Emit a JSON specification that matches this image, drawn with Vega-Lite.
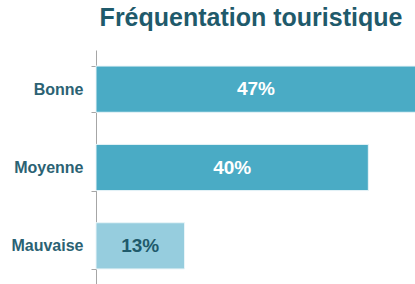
{
  "$schema": "https://vega.github.io/schema/vega-lite/v6.json",
  "autosize": {"type": "none"},
  "padding": {"left": 96, "top": 50, "right": 0, "bottom": 0},
  "width": 320,
  "height": 235,
  "background": "white",
  "config": {"view": {"stroke": null}, "font": "Liberation Sans"},
  "title": {
    "text": "Fréquentation touristique",
    "fontSize": 25,
    "fontWeight": "bold",
    "color": "#1F5A6B",
    "font": "Liberation Sans",
    "anchor": "middle",
    "dx": -5,
    "offset": 11
  },
  "data": {
    "values": [
      {"category": "Bonne", "value": 47, "label": "47%"},
      {"category": "Moyenne", "value": 40, "label": "40%"},
      {"category": "Mauvaise", "value": 13, "label": "13%"}
    ]
  },
  "encoding": {
    "y": {
      "field": "category",
      "type": "nominal",
      "sort": null,
      "scale": {"paddingInner": 0.41, "paddingOuter": 0.205},
      "axis": {
        "title": null,
        "tickBand": "extent",
        "domainColor": "#A6A6A6",
        "tickColor": "#A6A6A6",
        "tickSize": 5,
        "labelPadding": 8,
        "labelFontSize": 16,
        "labelFontWeight": "bold",
        "labelColor": "#2B6273",
        "labelFont": "Liberation Sans"
      }
    }
  },
  "layer": [
    {
      "mark": {"type": "bar", "stroke": "#E8F4F8", "strokeWidth": 1},
      "encoding": {
        "x": {"field": "value", "type": "quantitative", "scale": {"domain": [0, 47]}, "axis": null},
        "color": {
          "condition": {"test": "datum.category === 'Mauvaise'", "value": "#96CDDE"},
          "value": "#4AABC5"
        }
      }
    },
    {
      "mark": {"type": "text", "fontSize": 19, "fontWeight": "bold", "font": "Liberation Sans", "align": "center", "baseline": "middle"},
      "encoding": {
        "x": {"field": "value", "type": "quantitative", "scale": {"domain": [0, 94]}, "axis": null},
        "text": {"field": "label"},
        "color": {
          "condition": {"test": "datum.category === 'Mauvaise'", "value": "#1F5A6B"},
          "value": "white"
        }
      }
    }
  ],
  "resolve": {"scale": {"x": "independent"}}
}
